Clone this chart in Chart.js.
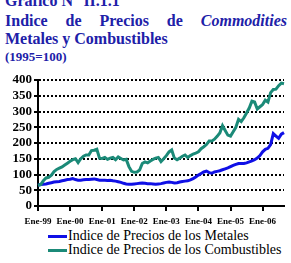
<!DOCTYPE html>
<html lang="es">
<head>
<meta charset="UTF-8">
<title>Indice de Precios de Commodities</title>
<script src="https://cdn.jsdelivr.net/npm/chart.js"></script>
<style>
    body { margin: 0; width: 291px; height: 263px; background: #fff; position: relative; overflow: hidden; font-family: "Liberation Serif", "Times New Roman", serif; }
    .t { position: absolute; left: 5px; color: #2020a8; font-weight: bold; white-space: nowrap; line-height: 18px; }
    #t1 { top: -8px; font-size: 16px; }
    #t2 { top: 12px; width: 282px; font-size: 16px; display: flex; justify-content: space-between; }
    #t3 { top: 30px; font-size: 16px; }
    #t4 { top: 49px; font-size: 13px; line-height: 15px; }
    #chart { position: absolute; left: 0; top: 70px; }
    #legend { position: absolute; left: 48px; top: 229px; font-size: 14px; color: #000; }
    .item { display: flex; align-items: center; height: 14px; white-space: nowrap; }
    .sw { width: 19px; height: 3px; margin-right: 1px; }
</style>
</head>
<body>
<div class="t" id="t1">Gráfico N° II.1.1</div>
<div class="t" id="t2"><span>Indice</span><span>de</span><span>Precios</span><span>de</span><i>Commodities</i></div>
<div class="t" id="t3">Metales y Combustibles</div>
<div class="t" id="t4">(1995=100)</div>
<canvas id="chart" width="291" height="158"></canvas>
<div id="legend"></div>

<script>
const meses = ['Ene', 'Feb', 'Mar', 'Abr', 'May', 'Jun', 'Jul', 'Ago', 'Sep', 'Oct', 'Nov', 'Dic'];
const anios = ['99', '00', '01', '02', '03', '04', '05', '06'];
const nombres = ['Indice de Precios de los Metales', 'Indice de Precios de los Combustibles'];
const colores = ['#1010e6', '#1b8a78'];

// indices mensuales, Ene-99 a Sep-06
const metales = [
    66, 68, 69, 70, 72, 74, 76, 77, 78, 80, 82, 84,
    85, 87, 84, 82, 82, 83, 84, 84, 85, 86, 84, 82,
    82, 82, 81, 82, 80, 79, 77, 75, 72, 70, 69, 69,
    70, 71, 72, 73, 72, 71, 71, 70, 69, 70, 71, 73,
    75, 76, 75, 73, 74, 76, 78, 79, 80, 83, 87, 92,
    98, 103, 108, 111, 106, 104, 108, 110, 112, 115, 118, 121,
    125, 129, 132, 135, 135, 135, 137, 140, 143, 147, 152, 160,
    172, 180, 183, 195, 230, 222, 215, 228, 233
];
const combustibles = [
    66, 68, 80, 89, 91, 98, 109, 116, 120, 124, 130, 136,
    142, 147, 150, 138, 150, 158, 162, 162, 176, 177, 180, 152,
    151, 154, 148, 152, 154, 147, 156, 151, 146, 148, 125, 110,
    107, 108, 114, 135, 140, 137, 143, 148, 152, 154, 141, 150,
    160, 172, 178, 152, 147, 152, 158, 162, 154, 160, 165, 168,
    172, 182, 188, 195, 206, 206, 212, 221, 232, 255, 240, 225,
    222, 236, 250, 275, 268, 280, 295, 311, 333, 330, 308, 315,
    322, 336, 330, 360, 370, 371, 382, 390, 388
];

const labels = [];
anios.forEach(a => meses.forEach(m => labels.push(m + '-' + a)));
labels.length = metales.length;

const series = [metales, combustibles];

// leyenda en html
const leg = document.getElementById('legend');
nombres.forEach((n, i) => {
    leg.innerHTML += '<div class="item"><span class="sw" style="background:' + colores[i] + '"></span>' + n + '</div>';
});

new Chart(document.getElementById('chart'), {
    type: 'line',
    data: {
        labels: labels,
        datasets: [1, 0].map(i => ({
            label: nombres[i],
            data: series[i],
            borderColor: colores[i],
            backgroundColor: colores[i],
            borderWidth: 3,
            pointRadius: 0,
            tension: 0,
            fill: false
        }))
    },
    options: {
        responsive: false,
        animation: false,
        layout: { padding: { top: 10, right: 7, left: 0, bottom: 0 } },
        plugins: { legend: { display: false }, tooltip: { enabled: false } },
        scales: {
            x: {
                offset: false,
                afterFit: s => { s.height = 22; },
                border: { color: '#000', width: 2 },
                grid: {
                    drawOnChartArea: false,
                    tickLength: 5,
                    lineWidth: 2,
                    color: c => (c.index % 12 === 0 ? '#000' : 'rgba(0,0,0,0)')
                },
                ticks: {
                    autoSkip: false,
                    maxRotation: 0,
                    padding: 5,
                    color: '#000',
                    font: { family: '"Liberation Serif", serif', size: 9, weight: 'bold' },
                    callback: function (v, i) { return i % 12 === 0 ? labels[i] : ''; }
                }
            },
            y: {
                min: 0,
                max: 400,
                afterFit: s => { s.width = 38; },
                border: { color: '#000', width: 2, dash: [2, 2] },
                grid: { color: '#000', lineWidth: 2, tickLength: 4 },
                ticks: {
                    stepSize: 50,
                    autoSkip: false,
                    padding: 2,
                    color: '#000',
                    font: { family: '"Liberation Serif", serif', size: 13, weight: 'bold' }
                }
            }
        }
    }
});
</script>
</body>
</html>
